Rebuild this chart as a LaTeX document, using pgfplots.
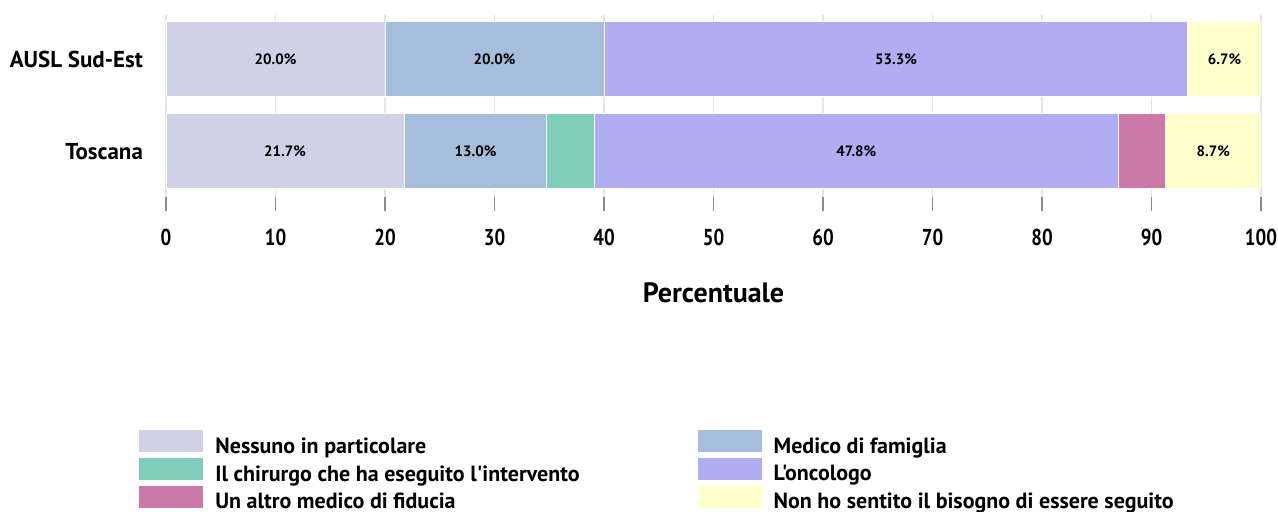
\documentclass[border=0pt]{standalone}
\usepackage{fontspec}
\setmainfont{PT Sans}
\newfontfamily\legfont{PT Sans}
\newfontfamily\tickfont{PT Sans}[FakeStretch=0.82]
\usepackage{pgfplots}
\pgfplotsset{compat=1.18}
\definecolor{cA}{HTML}{D0D1E6}
\definecolor{cB}{HTML}{A6BDDB}
\definecolor{cC}{HTML}{80CDBC}
\definecolor{cD}{HTML}{B1ADF3}
\definecolor{cE}{HTML}{CC79A7}
\definecolor{cF}{HTML}{FFFFCC}
\begin{document}
\begin{tikzpicture}[x=1pt,y=1pt]
\useasboundingbox (0,0) rectangle (639,256);
\begin{axis}[
  at={(83pt,157.5pt)}, anchor=south west,
  scale only axis, width=547.5pt, height=91pt,
  xbar stacked, bar width=37.5pt,
  xmin=0, xmax=100, ymin=-0.4946, ymax=1.4837,
  xtick={0,10,...,100}, ytick={0,1},
  yticklabels={Toscana,AUSL Sud-Est},
  axis line style={draw=none},
  xmajorgrids, grid style={color=black!10, line width=0.8pt},
  tick align=outside, xtick pos=bottom, ytick pos=left,
  major tick length=7pt,
  ytick style={draw=none},
  xtick style={color=black!45, line width=0.8pt},
  yticklabel style={font=\fontsize{11.5}{13}\selectfont\bfseries, xshift=-1pt},
  xticklabel style={font=\tickfont\fontsize{11.5}{13}\selectfont\bfseries, yshift=-5.5pt},
  /pgf/number format/assume math mode=true,
  xlabel={Percentuale},
  xlabel style={font=\fontsize{14}{16}\selectfont\bfseries, yshift=-11.5pt},
  legend columns=2,
  legend cell align=left,
  legend image code/.code={\fill[#1] (0pt,-3pt) rectangle (32.5pt,8.5pt);},
  legend style={at={(axis description cs:-0.02557,-1.275)}, anchor=north west,
    draw=none, fill=none, inner sep=0pt,
    font=\legfont\fontsize{11}{12}\selectfont\bfseries,
    row sep=0.5pt,
    nodes={inner sep=0pt},
    /tikz/every odd column/.append style={column sep=5.5pt},
    /tikz/every even column/.append style={column sep=58.5pt}},
]
\addplot[fill=cA, draw=white, line width=0.5pt] coordinates {(20.00,1) (21.74,0)};
\addlegendentry{Nessuno in particolare}
\addplot[fill=cB, draw=white, line width=0.5pt] coordinates {(20.00,1) (13.04,0)};
\addlegendentry{Medico di famiglia}
\addplot[fill=cC, draw=white, line width=0.5pt] coordinates {(0,1) (4.35,0)};
\addlegendentry{Il chirurgo che ha eseguito l'intervento}
\addplot[fill=cD, draw=white, line width=0.5pt] coordinates {(53.33,1) (47.83,0)};
\addlegendentry{L'oncologo}
\addplot[fill=cE, draw=white, line width=0.5pt] coordinates {(0,1) (4.35,0)};
\addlegendentry{Un altro medico di fiducia}
\addplot[fill=cF, draw=white, line width=0.5pt] coordinates {(6.67,1) (8.70,0)};
\addlegendentry{Non ho sentito il bisogno di essere seguito}
\end{axis}
\begin{axis}[
  at={(83pt,157.5pt)}, anchor=south west,
  scale only axis, width=547.5pt, height=91pt,
  xmin=0, xmax=100, ymin=-0.4946, ymax=1.4837,
  hide axis,
  nodes near coords, point meta=explicit symbolic,
  every node near coord/.style={anchor=center, inner sep=0pt, font=\fontsize{7.5}{8}\selectfont\bfseries},
]
\addplot[draw=none, mark=none] coordinates {
  (10.00,1) [20.0\%] (30.00,1) [20.0\%] (66.67,1) [53.3\%] (96.67,1) [6.7\%]
  (10.87,0) [21.7\%] (28.26,0) [13.0\%] (63.04,0) [47.8\%] (95.65,0) [8.7\%]
};
\end{axis}
\end{tikzpicture}
\end{document}
